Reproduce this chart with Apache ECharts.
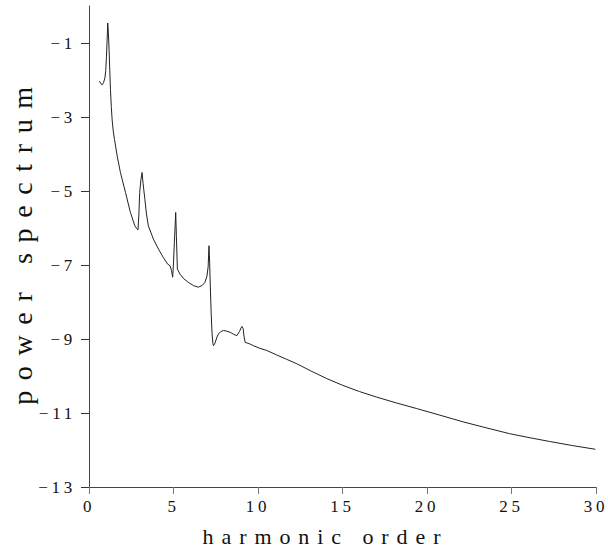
<!DOCTYPE html>
<html>
<head>
<meta charset="utf-8">
<script src="https://cdn.jsdelivr.net/npm/echarts@6/dist/echarts.min.js"></script>
<style>
html,body{margin:0;padding:0;background:#fff;}
#chart{width:608px;height:552px;}
#chart text{letter-spacing:0.22em;}
</style>
</head>
<body>
<div id="chart"></div>
<script>
// harmonic order (x) and log power spectrum (y)
const harmonicOrder = [0.62,0.70,0.78,0.86,0.94,0.99,1.03,1.07,1.11,1.15,1.19,1.23,1.27,1.32,1.37,1.44,1.51,1.67,1.86,2.16,2.45,2.71,2.83,2.90,2.95,3.00,3.07,3.14,3.20,3.30,3.40,3.51,3.81,4.11,4.40,4.66,4.80,4.88,4.95,5.00,5.05,5.10,5.13,5.17,5.23,5.39,5.60,5.88,6.20,6.47,6.70,6.86,6.98,7.05,7.10,7.14,7.18,7.23,7.28,7.33,7.37,7.42,7.47,7.57,7.67,7.80,7.96,8.16,8.36,8.55,8.75,8.90,9.00,9.05,9.12,9.18,9.24,9.50,9.73,10.1,10.52,11.1,11.7,12.3,13.2,14.07,15.0,16.0,17.02,18.2,19.39,20.7,22.14,23.5,24.9,26.1,27.26,28.6,29.96];
const powerSpectrum = [-2.03,-2.10,-2.13,-2.07,-1.95,-1.75,-1.40,-0.95,-0.46,-0.75,-1.20,-1.75,-2.26,-2.72,-3.08,-3.40,-3.61,-4.06,-4.50,-5.04,-5.58,-5.94,-6.02,-6.05,-5.65,-5.04,-4.70,-4.50,-4.80,-5.20,-5.62,-5.94,-6.30,-6.57,-6.80,-6.98,-7.02,-7.15,-7.33,-6.95,-6.39,-5.90,-5.58,-6.20,-7.11,-7.25,-7.37,-7.47,-7.56,-7.60,-7.55,-7.47,-7.30,-7.05,-6.48,-6.95,-7.60,-8.30,-8.85,-9.12,-9.18,-9.15,-9.09,-8.95,-8.86,-8.80,-8.77,-8.79,-8.82,-8.87,-8.91,-8.80,-8.70,-8.66,-8.72,-8.95,-9.09,-9.13,-9.18,-9.25,-9.31,-9.43,-9.55,-9.67,-9.88,-10.07,-10.25,-10.42,-10.57,-10.73,-10.88,-11.05,-11.24,-11.40,-11.56,-11.67,-11.77,-11.88,-11.98];
const yTickValues = [-13,-11,-9,-7,-5,-3,-1];
const xTickValues = [0,5,10,15,20,25,30];

const FONT = 'Liberation Serif';
const seriesData = harmonicOrder.map((x, i) => [x, powerSpectrum[i]]);
const fmtMinus = v => (v < 0 ? '\u2212' + (-v) : String(v));

const chart = echarts.init(document.getElementById('chart'), null, {renderer: 'svg'});
chart.setOption({
  animation: false,
  backgroundColor: '#ffffff',
  grid: {left: 89, right: 12, top: 6, bottom: 64, containLabel: false},
  xAxis: {
    type: 'value', min: 0, max: 30, interval: 5,
    name: 'harmonic order', nameLocation: 'middle', nameGap: 38,
    nameTextStyle: {fontFamily: FONT, fontSize: 22, color: '#111', padding: [0, 34, 0, 0]},
    axisLine: {show: true, onZero: false, lineStyle: {color: '#444', width: 1}},
    axisTick: {show: true, inside: false, length: 7, lineStyle: {color: '#777'}, customValues: xTickValues},
    axisLabel: {fontFamily: FONT, fontSize: 17, color: '#111', margin: 11, customValues: xTickValues},
    splitLine: {show: false}
  },
  yAxis: {
    type: 'value', min: -13, max: 0,
    name: 'power spectrum', nameLocation: 'middle', nameGap: 53,
    nameTextStyle: {fontFamily: FONT, fontSize: 28, color: '#111', padding: [0, 0, 0, 12]},
    axisLine: {show: true, onZero: false, lineStyle: {color: '#444', width: 1}},
    axisTick: {show: true, inside: false, length: 8, lineStyle: {color: '#333'}, customValues: yTickValues},
    axisLabel: {fontFamily: FONT, fontSize: 17, color: '#111', margin: 13, customValues: yTickValues, formatter: fmtMinus},
    splitLine: {show: false}
  },
  series: [{
    type: 'line', data: seriesData, showSymbol: false, smooth: false,
    lineStyle: {color: '#222', width: 1}
  }]
});

function spaceText() {
  document.querySelectorAll('#chart text').forEach(t => {
    const fs = parseFloat(getComputedStyle(t).fontSize) || 16;
    let ls = 0.22;
    if (fs >= 25) ls = 0.38; else if (fs >= 20) ls = 0.36;
    t.style.letterSpacing = ls + 'em';
  });
}
spaceText();
chart.on('finished', spaceText);
</script>
</body>
</html>
